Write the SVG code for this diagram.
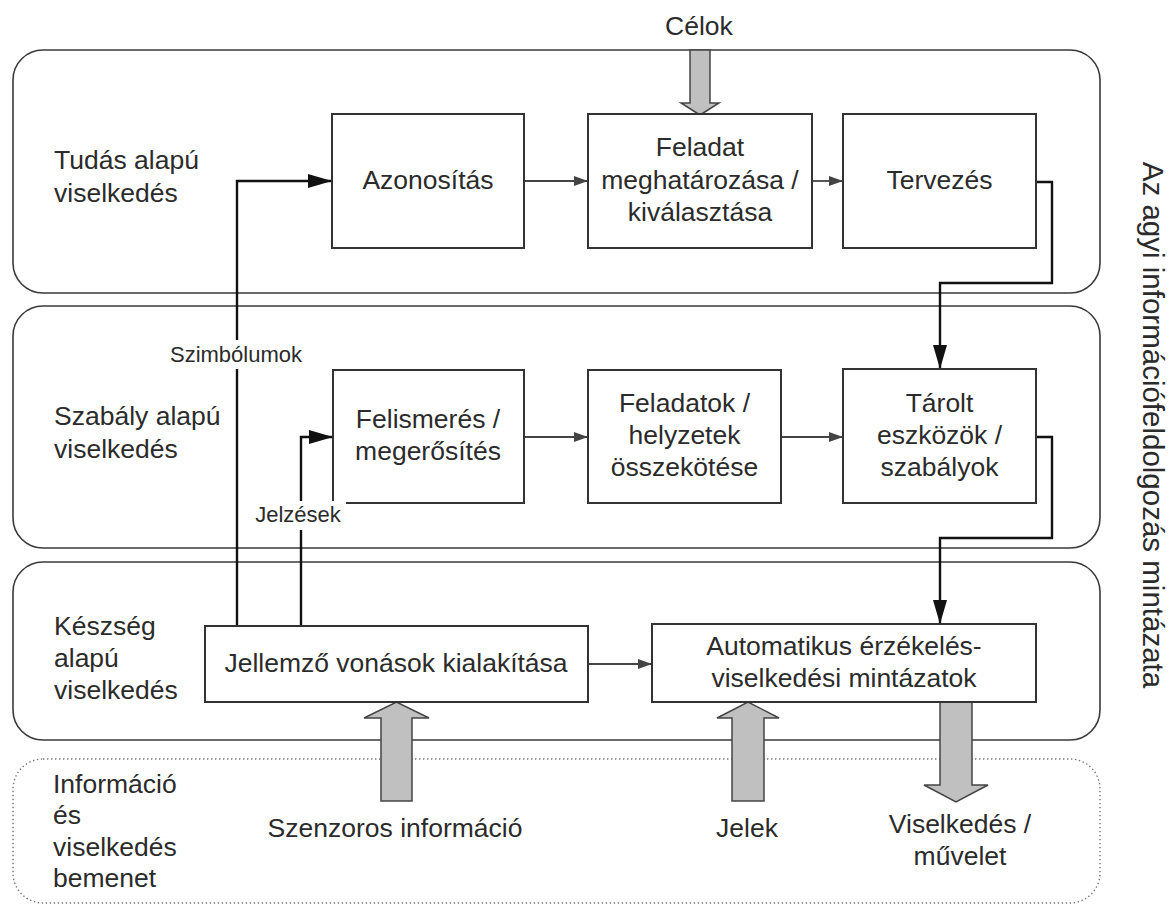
<svg xmlns="http://www.w3.org/2000/svg" width="1170" height="908" viewBox="0 0 1170 908">
<style>
  text { font-family: "Liberation Sans", Arial, sans-serif; fill: #2b2b2b; }
  .t { font-size: 26.5px; }
  .tc { font-size: 26.5px; text-anchor: middle; }
  .sm { font-size: 22px; text-anchor: middle; }
  .panel { fill: #ffffff; stroke: #3a3a3a; stroke-width: 1.6; }
  .dotted { fill: none; stroke: #777; stroke-width: 1.4; stroke-dasharray: 1.4 2.6; }
  .box { fill: #ffffff; stroke: #333; stroke-width: 2; }
  .thin { fill: none; stroke: #444; stroke-width: 1.8; }
  .thick { fill: none; stroke: #111; stroke-width: 2.4; }
  .big { fill: #c0c0c0; stroke: #444; stroke-width: 1.5; }
</style>
<defs>
  <marker id="aSmall" markerUnits="userSpaceOnUse" markerWidth="14" markerHeight="10" refX="14" refY="5" orient="auto">
    <path d="M0,0 L14,5 L0,10 z" fill="#444"/>
  </marker>
  <marker id="aBig" markerUnits="userSpaceOnUse" markerWidth="24" markerHeight="14" refX="24" refY="7" orient="auto">
    <path d="M0,0 L24,7 L0,14 z" fill="#111"/>
  </marker>
</defs>
<rect width="1170" height="908" fill="#ffffff"/>

<g id="layers">
  <rect class="panel" x="13" y="50" width="1087" height="243" rx="30"/>
  <rect class="panel" x="13" y="306" width="1087" height="242" rx="30"/>
  <rect class="panel" x="13" y="562" width="1087" height="178" rx="30"/>
  <rect class="dotted" x="13" y="759" width="1087" height="144" rx="30"/>
</g>

<g id="layer-labels">
  <text class="t" x="54" y="169">Tudás alapú</text>
  <text class="t" x="54" y="202">viselkedés</text>
  <text class="t" x="54" y="425">Szabály alapú</text>
  <text class="t" x="54" y="458">viselkedés</text>
  <text class="t" x="54" y="635">Készség</text>
  <text class="t" x="54" y="667">alapú</text>
  <text class="t" x="54" y="699">viselkedés</text>
  <text class="t" x="53" y="793">Információ</text>
  <text class="t" x="53" y="824">és</text>
  <text class="t" x="53" y="856">viselkedés</text>
  <text class="t" x="53" y="887">bemenet</text>
  <text class="tc" x="699" y="35">Célok</text>
  <text class="tc" style="font-size:29.5px" transform="translate(1143,425) rotate(90)">Az agyi információfeldolgozás mintázata</text>
  <text class="tc" x="395" y="837">Szenzoros információ</text>
  <text class="tc" x="747" y="837">Jelek</text>
  <text class="tc" x="960" y="833">Viselkedés /</text>
  <text class="tc" x="960" y="865">művelet</text>
</g>

<g id="connectors">
  <path class="thin" d="M524,181 H588" marker-end="url(#aSmall)"/>
  <path class="thin" d="M812,181 H843" marker-end="url(#aSmall)"/>
  <path class="thick" d="M1036,182 H1052 V283 H940 V369" marker-end="url(#aBig)"/>
  <path class="thin" d="M524,437 H588" marker-end="url(#aSmall)"/>
  <path class="thin" d="M781,437 H843" marker-end="url(#aSmall)"/>
  <path class="thick" d="M1036,437 H1052 V538 H940 V624" marker-end="url(#aBig)"/>
  <path class="thin" d="M588,664 H652" marker-end="url(#aSmall)"/>
  <path class="thick" d="M237,626 V181 H332" marker-end="url(#aBig)"/>
  <path class="thick" d="M301,626 V437 H333" marker-end="url(#aBig)"/>
  <polygon class="big" points="690,50 710,50 710,103 719,103 700,115 681,103 690,103"/>
  <polygon class="big" points="381,801 412,801 412,718 429,718 396.5,702 364,718 381,718"/>
  <polygon class="big" points="732,801 764,801 764,718 779,718 748,702 717,718 732,718"/>
  <polygon class="big" points="940,702 972,702 972,785 988,785 956,802 924,785 940,785"/>
</g>

<g id="azonositas">
  <rect class="box" x="332" y="114" width="192" height="134"/>
  <text class="tc" x="428" y="189">Azonosítás</text>
</g>
<g id="feladat">
  <rect class="box" x="588" y="114" width="224" height="134"/>
  <text class="tc" x="700" y="156">Feladat</text>
  <text class="tc" x="700" y="189">meghatározása /</text>
  <text class="tc" x="700" y="221">kiválasztása</text>
</g>
<g id="tervezes">
  <rect class="box" x="843" y="114" width="193" height="134"/>
  <text class="tc" x="939.5" y="189">Tervezés</text>
</g>
<g id="felismeres">
  <rect class="box" x="333" y="370" width="191" height="133"/>
  <text class="tc" x="428" y="428">Felismerés /</text>
  <text class="tc" x="428" y="460">megerősítés</text>
</g>
<g id="feladatok">
  <rect class="box" x="588" y="370" width="193" height="133"/>
  <text class="tc" x="684.5" y="412">Feladatok /</text>
  <text class="tc" x="684.5" y="444">helyzetek</text>
  <text class="tc" x="684.5" y="476">összekötése</text>
</g>
<g id="tarolt">
  <rect class="box" x="843" y="369" width="193" height="134"/>
  <text class="tc" x="939.5" y="412">Tárolt</text>
  <text class="tc" x="939.5" y="444">eszközök /</text>
  <text class="tc" x="939.5" y="476">szabályok</text>
</g>
<g id="jellemzo">
  <rect class="box" x="205" y="626" width="383" height="76"/>
  <text class="tc" x="396" y="672">Jellemző vonások kialakítása</text>
</g>
<g id="automatikus">
  <rect class="box" x="652" y="624" width="384" height="78"/>
  <text class="tc" x="844" y="655">Automatikus érzékelés-</text>
  <text class="tc" x="844" y="687">viselkedési mintázatok</text>
</g>

<g id="connector-labels">
  <rect x="165" y="340" width="142" height="29" fill="#ffffff"/>
  <text class="sm" x="236" y="362">Szimbólumok</text>
  <rect x="252" y="501" width="94" height="29" fill="#ffffff"/>
  <text class="sm" x="298" y="522">Jelzések</text>
</g>
</svg>
